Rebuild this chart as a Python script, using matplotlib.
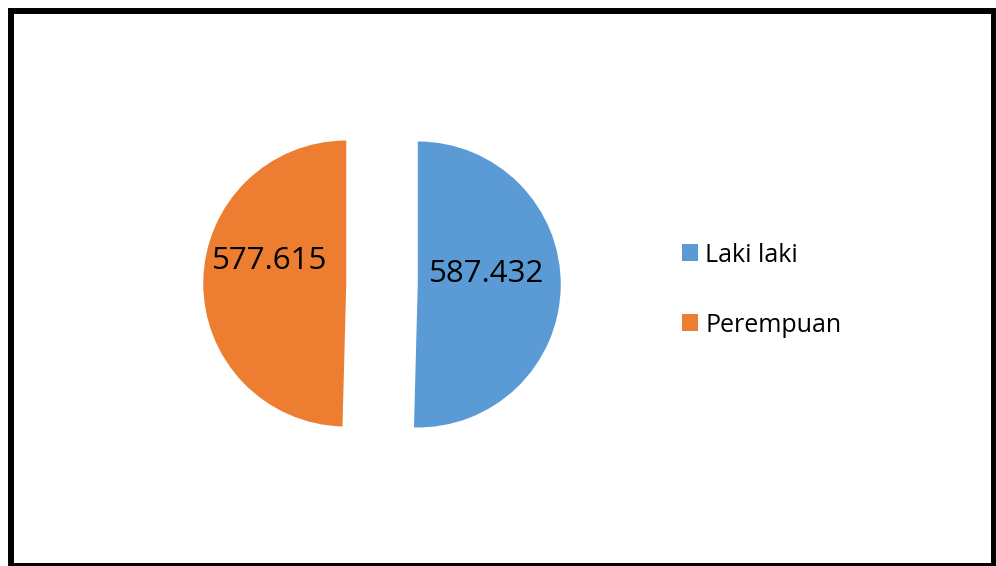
import matplotlib
matplotlib.use("Agg")
import matplotlib.pyplot as plt
from matplotlib.patches import Rectangle, Patch

categories = ["Laki laki", "Perempuan"]
values = [587.432, 577.615]
value_labels = ["587.432", "577.615"]
colors = ["#5B9BD5", "#ED7D31"]

plt.rcParams['font.family'] = ['Open Sans', 'DejaVu Sans']

W, H = 996, 566
fig = plt.figure(figsize=(W / 100, H / 100), dpi=100)

# pie axes: center ~ (382, 284) px, radius 143 px, limits +-1.5
cx, cy, r = 382, 284, 143
size = 3 * r
ax = fig.add_axes([(cx - size / 2) / W, (H - cy - size / 2) / H, size / W, size / H])
ax.set_aspect('equal')
ax.axis('off')

it = iter(value_labels)
wedges, texts, autotexts = ax.pie(values, colors=colors, startangle=90, counterclock=False,
                                  explode=[0.25, 0.25], radius=1.0,
                                  autopct=lambda p: next(it), pctdistance=0.5,
                                  wedgeprops=dict(linewidth=0),
                                  textprops=dict(fontsize=22.5, color='black'))
ax.set_xlim(-1.5, 1.5)
ax.set_ylim(-1.5, 1.5)
label_shift = [(-0.02, 0.08), (-0.035, 0.15)]
for t, (dx, dy) in zip(autotexts, label_shift):
    x, y = t.get_position()
    t.set_position((x + dx, y + dy))

handles = [Patch(facecolor=c, edgecolor='none') for c in colors]
fig.legend(handles, categories, loc='center left', bbox_to_anchor=(669 / W, (H - 290) / H),
           frameon=False, fontsize=18, handlelength=0.65, handleheight=0.65,
           handletextpad=0.3, labelspacing=1.8, borderpad=0)

fig.patches.append(Rectangle((11 / W, 0.5 / H), (994 - 11) / W, (H - 10.5) / H - 0.5 / H,
                             transform=fig.transFigure, fill=False, edgecolor='black',
                             linewidth=4.3, clip_on=False))

fig.savefig("out.png", dpi=100)
